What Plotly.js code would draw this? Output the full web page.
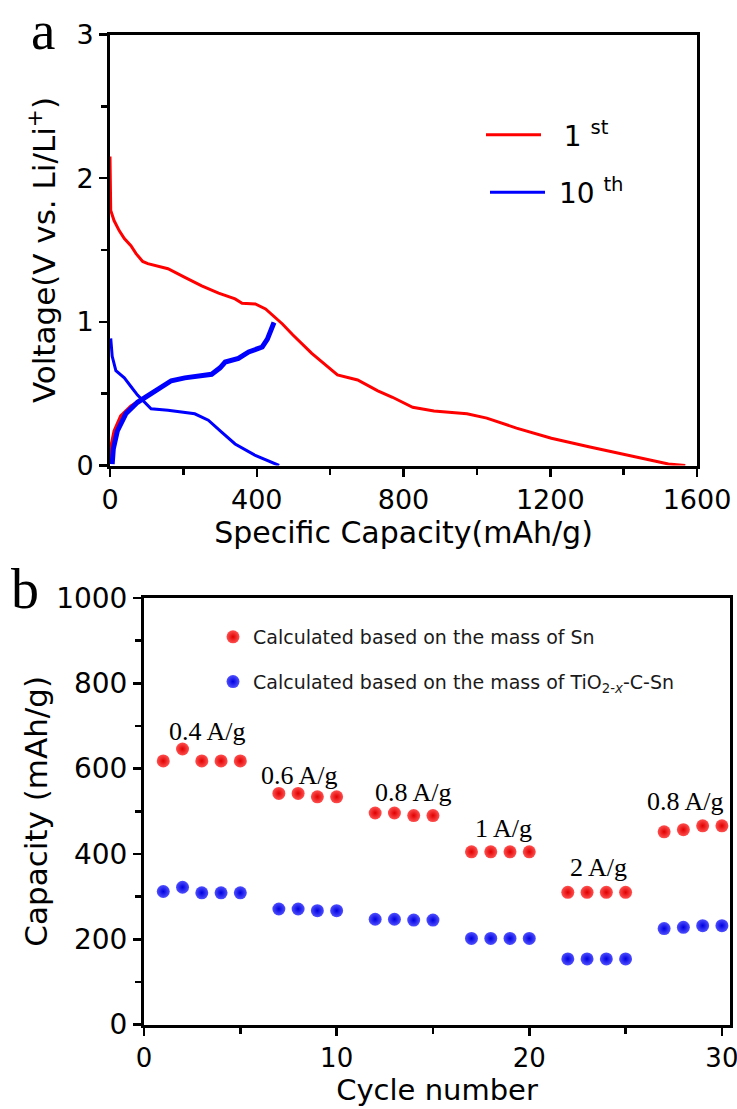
<!DOCTYPE html>
<html>
<head>
<meta charset="utf-8">
<script src="https://cdn.plot.ly/plotly-3.0.1.min.js"></script>
<style>html,body{margin:0;padding:0;background:#fff}#chart{width:737px;height:1109px}</style>
</head>
<body>
<div id="chart"></div>
<script>
// ---- Panel a: voltage profiles ----
const capDis1 = [0, 0, 2, 11, 25, 39, 57, 71, 89, 103, 158, 204, 250, 296, 341, 360, 396, 424, 451, 470, 498, 550, 620, 675, 730, 770, 825, 883, 973, 1027, 1108, 1203, 1305, 1417, 1522, 1568];
const volDis1 = [2.15, 1.9, 1.775, 1.705, 1.635, 1.58, 1.53, 1.475, 1.42, 1.405, 1.37, 1.31, 1.25, 1.2, 1.16, 1.13, 1.125, 1.09, 1.03, 0.985, 0.91, 0.78, 0.63, 0.595, 0.52, 0.475, 0.405, 0.38, 0.36, 0.33, 0.26, 0.19, 0.13, 0.068, 0.01, 0];
const capCha1 = [0, 2, 11, 29, 57, 85, 112, 167, 204, 277, 300, 314, 350, 378, 415, 429, 447];
const volCha1 = [0.01, 0.13, 0.24, 0.345, 0.415, 0.46, 0.5, 0.59, 0.61, 0.635, 0.68, 0.72, 0.745, 0.79, 0.825, 0.88, 0.995];
const capDis10 = [2, 6, 16, 39, 57, 75, 112, 158, 231, 268, 305, 341, 396, 461];
const volDis10 = [0.885, 0.76, 0.66, 0.61, 0.55, 0.49, 0.395, 0.385, 0.36, 0.315, 0.23, 0.15, 0.07, 0.0];
const capCha10 = [6, 9, 20, 43, 75, 112, 167, 204, 277, 300, 314, 350, 378, 415, 429, 447];
const volCha10 = [0.01, 0.115, 0.24, 0.36, 0.44, 0.5, 0.59, 0.61, 0.635, 0.68, 0.72, 0.745, 0.79, 0.825, 0.88, 0.995];

// ---- Panel b: rate performance ----
const cyclesSn = [1, 2, 3, 4, 5, 7, 8, 9, 10, 12, 13, 14, 15, 17, 18, 19, 20, 22, 23, 24, 25, 27, 28, 29, 30];
const capSn = [618, 646, 618, 618, 618, 542, 542, 534, 534, 496, 496, 490, 490, 405, 405, 405, 405, 310, 310, 310, 310, 452, 457, 466, 466];
const capComposite = [312, 322, 309, 309, 309, 271, 271, 267, 267, 247, 247, 245, 245, 202, 202, 202, 202, 154, 154, 154, 154, 225, 228, 232, 232];
const rateLabels = ['0.4 A/g', '0.6 A/g', '0.8 A/g', '1 A/g', '2 A/g', '0.8 A/g'];
const rateLabelX = [3.3, 8.06, 13.98, 18.65, 23.57, 28.1];
const rateLabelY = [688, 583, 545, 459, 368, 522];

const W = 737, H = 1109;
const px = v => v / W;
const py = v => (H - v) / H;

const RED = '#ff0000', BLUE = '#0000ff';
const sans = 'DejaVu Sans, sans-serif';
const serif = 'Times New Roman, Liberation Serif, serif';
const NB = '\u00a0';

const traces = [
  {x: capDis1, y: volDis1, type: 'scatter', mode: 'lines', name: NB + NB + '1 <sup>st</sup>', legend: 'legend',
   line: {color: RED, width: 3}, xaxis: 'x', yaxis: 'y'},
  {x: capCha1, y: volCha1, type: 'scatter', mode: 'lines', showlegend: false,
   line: {color: RED, width: 3}, xaxis: 'x', yaxis: 'y'},
  {x: capDis10, y: volDis10, type: 'scatter', mode: 'lines', name: NB + '10 <sup>th</sup>', legend: 'legend2',
   line: {color: BLUE, width: 3}, xaxis: 'x', yaxis: 'y'},
  {x: capCha10, y: volCha10, type: 'scatter', mode: 'lines', showlegend: false,
   line: {color: BLUE, width: 5}, xaxis: 'x', yaxis: 'y'},
  {x: cyclesSn, y: capSn, type: 'scatter', mode: 'markers', name: 'Calculated based on the mass of Sn', legend: 'legend3',
   marker: {color: '#ff5050', size: 13, gradient: {type: 'radial', color: '#e00000'}}, xaxis: 'x2', yaxis: 'y2'},
  {x: cyclesSn, y: capComposite, type: 'scatter', mode: 'markers', name: 'Calculated based on the mass of TiO<sub>2-<i>x</i></sub>-C-Sn', legend: 'legend4',
   marker: {color: '#5050ff', size: 13, gradient: {type: 'radial', color: '#0000e0'}}, xaxis: 'x2', yaxis: 'y2'}
];

const axBase = {
  showline: true, mirror: true, linecolor: '#000', linewidth: 3,
  ticks: 'outside', ticklen: 8, tickwidth: 2.5, tickcolor: '#000',
  showgrid: false, zeroline: false, automargin: false, ticklabeloverflow: 'allow'
};
const minorBase = {ticks: 'outside', ticklen: 6, tickwidth: 2.5, tickcolor: '#000'};

const annotations = rateLabels.map((t, i) => ({
  text: t, x: rateLabelX[i], y: rateLabelY[i], xref: 'x2', yref: 'y2', showarrow: false,
  xanchor: 'center', yanchor: 'middle',
  font: {family: serif, size: 26, color: '#000'}
}));
annotations.push({text: 'a', x: px(43), y: py(30), xref: 'paper', yref: 'paper', showarrow: false,
  xanchor: 'center', yanchor: 'middle', font: {family: serif, size: 55, color: '#000'}});
annotations.push({text: 'b', x: px(25), y: py(589), xref: 'paper', yref: 'paper', showarrow: false,
  xanchor: 'center', yanchor: 'middle', font: {family: serif, size: 56, color: '#000'}});

const legBase = {bgcolor: 'rgba(0,0,0,0)', borderwidth: 0, xanchor: 'left', yanchor: 'middle'};

const layout = {
  width: W, height: H, margin: {l: 0, r: 0, t: 0, b: 0},
  paper_bgcolor: '#fff', plot_bgcolor: '#fff',
  font: {family: sans, color: '#000'},
  xaxis: Object.assign({}, axBase, {
    domain: [px(110), px(697)], range: [0, 1600], dtick: 400, tick0: 0,
    minor: Object.assign({dtick: 200}, minorBase),
    tickfont: {size: 27, family: sans}, anchor: 'y',
    title: {text: 'Specific Capacity(mAh/g)', font: {size: 30, family: sans}, standoff: 2}
  }),
  yaxis: Object.assign({}, axBase, {
    domain: [py(465.5), py(34.5)], range: [0, 3], dtick: 1, tick0: 0,
    minor: Object.assign({dtick: 0.5}, minorBase),
    tickfont: {size: 27, family: sans}, anchor: 'x',
    title: {text: 'Voltage(V vs. Li/Li<sup>+</sup>)', font: {size: 31, family: sans}, standoff: 12}
  }),
  xaxis2: Object.assign({}, axBase, {
    domain: [px(144), px(730)], range: [0, 30.42], dtick: 10, tick0: 0,
    minor: Object.assign({dtick: 5}, minorBase),
    tickfont: {size: 26, family: sans}, anchor: 'y2',
    title: {text: 'Cycle number', font: {size: 29, family: sans}, standoff: 6}
  }),
  yaxis2: Object.assign({}, axBase, {
    domain: [py(1024.6), py(598)], range: [0, 1000], dtick: 200, tick0: 0,
    minor: Object.assign({dtick: 100}, minorBase),
    tickfont: {size: 28, family: sans}, anchor: 'x2',
    title: {text: 'Capacity (mAh/g)', font: {size: 31, family: sans}, standoff: 0}
  }),
  legend: Object.assign({}, legBase, {x: px(481), y: py(135), font: {size: 28, family: sans}, itemwidth: 55}),
  legend2: Object.assign({}, legBase, {x: px(485), y: py(192.5), font: {size: 28, family: sans}, itemwidth: 55}),
  legend3: Object.assign({}, legBase, {x: px(213), y: py(637), font: {size: 19, family: sans, color: '#1a1a1a'}, itemwidth: 30}),
  legend4: Object.assign({}, legBase, {x: px(213), y: py(681.7), font: {size: 19, family: sans, color: '#1a1a1a'}, itemwidth: 30}),
  annotations: annotations,
  showlegend: true
};

Plotly.newPlot('chart', traces, layout, {displayModeBar: false, staticPlot: true});
</script>
</body>
</html>
